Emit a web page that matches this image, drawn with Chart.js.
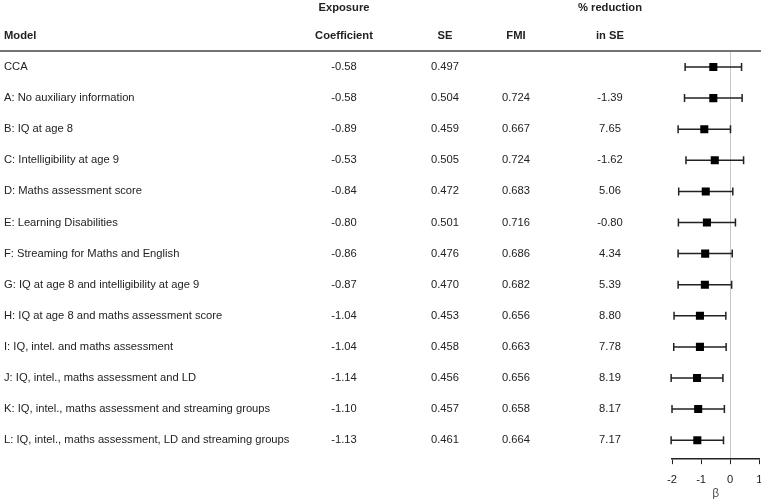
<!DOCTYPE html>
<html>
<head>
<meta charset="utf-8">
<script src="https://cdn.jsdelivr.net/npm/chart.js@4.4.0/dist/chart.umd.min.js"></script>
<style>
  html, body { margin: 0; padding: 0; background: #fff; overflow: hidden; }
  #wrap { width: 761px; height: 499px; position: relative; overflow: hidden; }
</style>
</head>
<body>
<div id="wrap"><canvas id="forest" width="765" height="499"></canvas></div>
<script>
// Table / forest data
const models = [
    "CCA",
    "A: No auxiliary information",
    "B: IQ at age 8",
    "C: Intelligibility at age 9",
    "D: Maths assessment score",
    "E: Learning Disabilities",
    "F: Streaming for Maths and English",
    "G: IQ at age 8 and intelligibility at age 9",
    "H: IQ at age 8 and maths assessment score",
    "I: IQ, intel. and maths assessment",
    "J: IQ, intel., maths assessment and LD",
    "K: IQ, intel., maths assessment and streaming groups",
    "L: IQ, intel., maths assessment, LD and streaming groups"
];
const coefficients = [-0.58, -0.58, -0.89, -0.53, -0.84, -0.80, -0.86, -0.87, -1.04, -1.04, -1.14, -1.10, -1.13];
const seValues = ["0.497", "0.504", "0.459", "0.505", "0.472", "0.501", "0.476", "0.470", "0.453", "0.458", "0.456", "0.457", "0.461"];
const fmiValues = ["", "0.724", "0.667", "0.724", "0.683", "0.716", "0.686", "0.682", "0.656", "0.663", "0.656", "0.658", "0.664"];
const reduction = ["", "-1.39", "7.65", "-1.62", "5.06", "-0.80", "4.34", "5.39", "8.80", "7.78", "8.19", "8.17", "7.17"];
const ciLower = [-1.55, -1.57, -1.79, -1.52, -1.77, -1.78, -1.79, -1.79, -1.93, -1.94, -2.03, -2.00, -2.03];
const ciUpper = [0.39, 0.41, 0.01, 0.46, 0.09, 0.18, 0.07, 0.05, -0.15, -0.14, -0.25, -0.20, -0.23];
const xTicks = [-2, -1, 0, 1];

const FONT = "Liberation Sans, Arial, sans-serif";
const TEXT = "#222";

const points = coefficients.map((c, i) => ({ x: c, y: i }));

/**
 * Error bars with caps, drawn under the markers
 */
const errorBars = {
    id: "errorBars",
    beforeDatasetsDraw(chart) {
        const { ctx, scales: { x, y } } = chart;
        ctx.save();
        ctx.strokeStyle = "#222";
        ctx.lineWidth = 1.5;
        ciLower.forEach((lo, i) => {
            const py = y.getPixelForValue(i);
            const x1 = x.getPixelForValue(lo);
            const x2 = x.getPixelForValue(ciUpper[i]);
            ctx.beginPath();
            ctx.moveTo(x1, py); ctx.lineTo(x2, py);
            ctx.moveTo(x1, py - 4); ctx.lineTo(x1, py + 4);
            ctx.moveTo(x2, py - 4); ctx.lineTo(x2, py + 4);
            ctx.stroke();
        });
        ctx.restore();
    }
};

/**
 * Table columns and headers
 */
const tableText = {
    id: "tableText",
    afterDraw(chart) {
        const { ctx, scales: { y } } = chart;
        ctx.save();
        ctx.fillStyle = TEXT;
        ctx.textBaseline = "middle";

        // headers
        ctx.font = "bold 11.2px " + FONT;
        ctx.textAlign = "center";
        ctx.fillText("Exposure", 344, 8);
        ctx.fillText("% reduction", 610, 8);
        ctx.fillText("Coefficient", 344, 36);
        ctx.fillText("SE", 445, 36);
        ctx.fillText("FMI", 516, 36);
        ctx.fillText("in SE", 610, 36);
        ctx.textAlign = "left";
        ctx.fillText("Model", 4, 36);

        // header rule
        ctx.strokeStyle = "#444";
        ctx.lineWidth = 1.6;
        ctx.beginPath();
        ctx.moveTo(0, 51); ctx.lineTo(765, 51);
        ctx.stroke();

        // rows
        ctx.font = "11.2px " + FONT;
        models.forEach((m, i) => {
            const py = y.getPixelForValue(i);
            ctx.textAlign = "left";
            ctx.fillText(m, 4, py);
            ctx.textAlign = "center";
            ctx.fillText(coefficients[i].toFixed(2), 344, py);
            ctx.fillText(seValues[i], 445, py);
            ctx.fillText(fmiValues[i], 516, py);
            ctx.fillText(reduction[i], 610, py);
        });
        ctx.restore();
    }
};

new Chart(document.getElementById("forest").getContext("2d"), {
    type: "scatter",
    data: {
        datasets: [{
            data: points,
            pointStyle: "rect",
            pointRadius: 5.7,
            pointHoverRadius: 5.7,
            backgroundColor: "#000",
            borderColor: "#000",
            borderWidth: 0
        }]
    },
    options: {
        responsive: false,
        animation: false,
        events: [],
        layout: { padding: { left: 672, right: 2, top: 52, bottom: -2 } },
        plugins: { legend: { display: false }, tooltip: { enabled: false } },
        scales: {
            x: {
                type: "linear",
                min: -2,
                max: 1,
                afterBuildTicks: axis => { axis.ticks = xTicks.map(v => ({ value: v })); },
                afterFit: axis => { axis.paddingLeft = 0; axis.paddingRight = 0; },
                grid: {
                    color: c => (c.tick && c.tick.value === 0) ? "#c8c8c8" : "rgba(0,0,0,0)",
                    lineWidth: 1,
                    tickColor: "#222",
                    tickLength: 5,
                    drawTicks: true
                },
                border: { display: true, color: "#222", width: 1.5 },
                ticks: { color: TEXT, font: { family: FONT, size: 11.2 }, padding: 9, maxRotation: 0 },
                title: { display: true, text: "β", color: "#555", font: { family: FONT, size: 12 }, padding: { top: -9, bottom: 0 } }
            },
            y: {
                type: "linear",
                reverse: true,
                min: -0.483,
                max: 12.61,
                display: false
            }
        }
    },
    plugins: [errorBars, tableText]
});
</script>
</body>
</html>
